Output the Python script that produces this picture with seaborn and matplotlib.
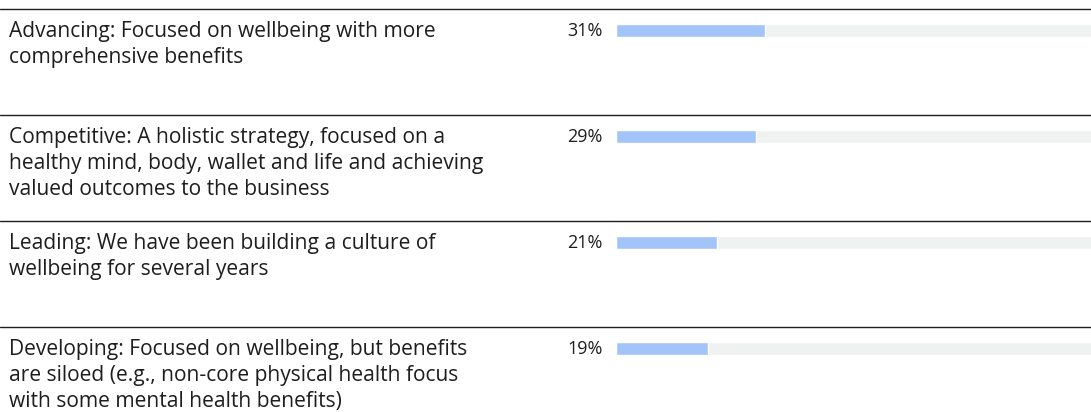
#!/usr/bin/env python

import matplotlib
matplotlib.use('Agg')
import matplotlib.pyplot as plt
import matplotlib.transforms as mtransforms
import pandas as pd
import seaborn as sns

labels = [
    'Advancing: Focused on wellbeing with more\ncomprehensive benefits',
    'Competitive: A holistic strategy, focused on a\nhealthy mind, body, wallet and life and achieving\nvalued outcomes to the business',
    'Leading: We have been building a culture of\nwellbeing for several years',
    'Developing: Focused on wellbeing, but benefits\nare siloed (e.g., non-core physical health focus\nwith some mental health benefits)',
]
keys = ['Advancing', 'Competitive', 'Leading', 'Developing']
shares = [31, 29, 21, 19]
full = [100, 100, 100, 100]

BLUE = '#a2c4f9'
TRACK = '#f0f1f1'
INK = '#1e1e1e'


def main():
    sns.set_theme(style='white')
    plt.rcParams['font.family'] = ['Open Sans', 'DejaVu Sans']

    W, H = 1091, 412
    fig = plt.figure(figsize=(W / 100, H / 100), dpi=100)
    ax = fig.add_axes([0, 0, 1, 1])

    df = pd.DataFrame({'key': keys, 'share': shares, 'full': full})
    row_px = 106.0
    bar_h = 13.0 / row_px
    sns.barplot(data=df, y='key', x='full', color=TRACK, width=bar_h, ax=ax,
                saturation=1, orient='h')
    sns.barplot(data=df, y='key', x='share', color=BLUE, width=bar_h, ax=ax,
                saturation=1, orient='h')

    # map pixels: x=0 at px 616, 1 % = 4.82 px; row 0 centre at px 30.5
    px_per_unit = 4.82
    ax.set_xlim(-616 / px_per_unit, (W - 616) / px_per_unit)
    top = -30.5 / row_px
    ax.set_ylim(top + H / row_px, top)
    ax.axis('off')

    sep_off = 21.5 / row_px
    for i in range(len(keys)):
        ax.axhline(i - sep_off, color=INK, lw=1.0)

    label_tr = mtransforms.blended_transform_factory(ax.transAxes, ax.transData)
    for i, (lab, val) in enumerate(zip(labels, shares)):
        ax.text(9 / W, i - 9.5 / row_px, lab, transform=label_tr, ha='left', va='top',
                fontsize=15.1, color=INK, linespacing=1.3)
        ax.annotate('{}%'.format(val), xy=(0, i), xytext=(-13, 0),
                    textcoords='offset pixels', ha='right', va='center',
                    fontsize=13, color=INK)

    fig.savefig('out.png', dpi=100)


if __name__ == '__main__':
    main()
